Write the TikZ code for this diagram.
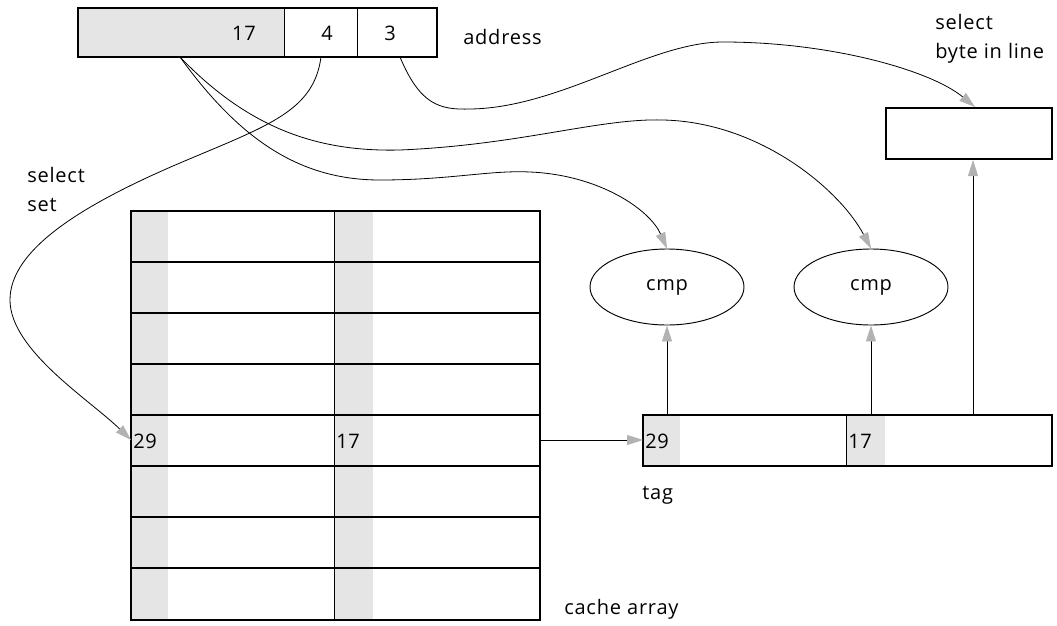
\documentclass[tikz,border=0pt]{standalone}
\usepackage{fontspec}
\setmainfont{Open Sans}[LetterSpace=4]
\usetikzlibrary{arrows.meta,shapes.geometric}
\definecolor{cellgray}{gray}{0.9}
\newlength{\pxu}\setlength{\pxu}{0.75pt}
\tikzset{
  frame/.style={draw=black,line width=1.5pt},
  thinline/.style={draw=black,line width=0.7pt},
  wire/.style={draw=black,line width=0.6pt,-{Triangle[length=12pt,width=7.5pt,color=gray!60]}},
  lbl/.style={font=\fontsize{15}{18}\selectfont,inner sep=0pt},
  txt/.style={font=\fontsize{15}{21.5}\selectfont,inner sep=0pt,align=left},
  cmpnode/.style={ellipse,draw=black,line width=0.7pt,minimum width=154\pxu,minimum height=76\pxu,font=\fontsize{15}{18}\selectfont},
}
\begin{document}
\begin{tikzpicture}[x=0.75pt,y=-0.75pt]
\useasboundingbox (0,0) rectangle (1057,625);

% address register: tag | set | offset
\fill[cellgray] (78,8) rectangle (284,57);
\draw[thinline] (284,8) -- (284,57);
\draw[thinline] (357,8) -- (357,57);
\draw[frame] (78,8) rectangle (437,57);
\node[lbl] (atag) at (244,33) {17};
\node[lbl] (aset) at (327,33) {4};
\node[lbl] (aoff) at (390,33) {3};
\node[lbl,anchor=west] (addr) at (463,37) {address};
\coordinate (tagout) at (180,57);
\coordinate (setout) at (321,57);
\coordinate (offout) at (400,57);

% cache array: 8 sets, two ways
\fill[cellgray] (131,211) rectangle (168,620);
\fill[cellgray] (334,211) rectangle (373,620);
\foreach \y in {262,313,364,415,466,517,568}
  \draw[line width=1.5pt] (131,\y) -- (540,\y);
\draw[thinline] (334,211) -- (334,620);
\draw[frame] (131,211) rectangle (540,620);
\node[lbl,anchor=west] (w0) at (133,441) {29};
\node[lbl,anchor=west] (w1) at (336,441) {17};
\coordinate (setin) at (131,440);
\coordinate (arrout) at (540,440);
\node[lbl,anchor=west] (carr) at (564,609) {cache array};

% selected line
\fill[cellgray] (643,415) rectangle (680,466);
\fill[cellgray] (846,415) rectangle (885,466);
\draw[thinline] (846,415) -- (846,466);
\draw[frame] (643,415) rectangle (1052,466);
\node[lbl,anchor=west] (l0) at (645,441) {29};
\node[lbl,anchor=west] (l1) at (848,441) {17};
\coordinate (linein) at (643,440);
\coordinate (l0out) at (667,415);
\coordinate (l1out) at (871,415);
\coordinate (dataout) at (973,415);
\node[lbl,anchor=west] (tag) at (642,495) {tag};

% comparators
\node[cmpnode] (cmpa) at (667,287) {cmp};
\node[cmpnode] (cmpb) at (871,287) {cmp};

% byte selector
\node[frame,minimum width=166\pxu,minimum height=51\pxu,inner sep=0pt] (bytebox) at (969,133.5) {};
\node[txt,anchor=north west] (bsel) at (935,14) {select\\byte in line};
\node[txt,anchor=north west] (ssel) at (27,167) {select\\set};

% connectors
\draw[wire] (arrout) -- (linein);
\draw[wire] (l0out) -- (cmpa.south);
\draw[wire] (l1out) -- (cmpb.south);
\draw[wire] (dataout) -- (bytebox.south -| dataout);
\draw[wire] (tagout) .. controls (240,140) and (300,180) .. (380,180)
  .. controls (450,180) and (490,170) .. (530,172)
  .. controls (600,175) and (650,210) .. (cmpa.north);
\draw[wire] (tagout) .. controls (250,130) and (320,152) .. (400,150)
  .. controls (520,145) and (600,118) .. (663,120)
  .. controls (760,122) and (840,190) .. (cmpb.north);
\draw[wire] (offout) .. controls (420,105) and (440,110) .. (470,109)
  .. controls (560,108) and (650,42) .. (723,42)
  .. controls (830,42) and (930,70) .. (bytebox.north -| 975,0);
\draw[wire] (setout) .. controls (314,110) and (270,125) .. (187,160)
  .. controls (80,205) and (10,250) .. (10,300)
  .. controls (10,350) and (90,400) .. (setin);
\end{tikzpicture}
\end{document}
